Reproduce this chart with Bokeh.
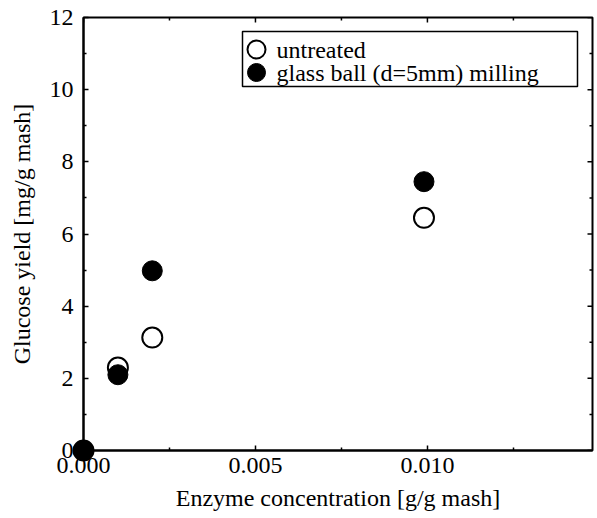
import math
from bokeh.plotting import figure
from bokeh.models import (Range1d, FixedTicker, PrintfTickFormatter, ColumnDataSource,
                          BoxAnnotation, Label)
from bokeh.embed import file_html
from bokeh.resources import INLINE

# ---- data ----
enzyme_conc = [0.0, 0.001, 0.002, 0.0099]
untreated = [0.0, 2.3, 3.13, 6.45]
milled = [0.0, 2.1, 4.98, 7.45]
x_major = [0.0, 0.005, 0.010]
x_minor = [0.0025, 0.0075, 0.0125]
y_major = [0, 2, 4, 6, 8, 10, 12]
y_minor = [1, 3, 5, 7, 9, 11]
series_labels = ["untreated", "glass ball (d=5mm) milling"]

X_MAX = 0.0148
Y_MAX = 12
FONT = "Liberation Serif"

p = figure(width=597, height=518, output_backend="svg", toolbar_location=None,
           x_range=Range1d(0, X_MAX), y_range=Range1d(0, Y_MAX),
           min_border_left=83, min_border_right=5, min_border_top=17,
           min_border_bottom=68)
p.grid.visible = False
p.outline_line_color = "black"
p.outline_line_width = 2
p.background_fill_color = "white"
p.border_fill_color = "white"

src_u = ColumnDataSource(dict(x=enzyme_conc, y=untreated))
src_m = ColumnDataSource(dict(x=enzyme_conc, y=milled))
p.scatter("x", "y", source=src_u, size=20, fill_color="white",
          line_color="black", line_width=2, level="overlay")
p.scatter("x", "y", source=src_m, size=20, fill_color="black",
          line_color="black", line_width=1, level="overlay")

# axes
for ax in (p.xaxis[0], p.yaxis[0]):
    ax.axis_line_width = 2
    ax.axis_line_color = "black"
    ax.major_tick_in = 5
    ax.major_tick_out = 0
    ax.minor_tick_in = 3
    ax.minor_tick_out = 0
    ax.major_tick_line_width = 1.5
    ax.minor_tick_line_width = 1.5
    ax.major_label_text_font = FONT
    ax.major_label_text_font_size = "24px"
    ax.major_label_text_color = "black"
    ax.axis_label_text_font = FONT
    ax.axis_label_text_font_size = "24px"
    ax.axis_label_text_font_style = "normal"
    ax.axis_label_text_color = "black"

p.xaxis.ticker = FixedTicker(ticks=x_major, minor_ticks=x_minor)
p.yaxis.ticker = FixedTicker(ticks=y_major, minor_ticks=y_minor)
p.xaxis.formatter = PrintfTickFormatter(format="%.3f")
p.xaxis.axis_label = "Enzyme concentration [g/g mash]"
p.yaxis.axis_label = "Glucose yield [mg/g mash]"
p.xaxis.major_label_standoff = 7
p.yaxis.major_label_standoff = 10
p.xaxis.axis_label_standoff = 9
p.yaxis.axis_label_standoff = 12

# mirrored inward ticks on top and right edges
p.ray(x=x_major, y=[Y_MAX] * len(x_major), length=5, angle=-math.pi / 2,
      length_units="screen", line_color="black", line_width=1.5)
p.ray(x=x_minor, y=[Y_MAX] * len(x_minor), length=3, angle=-math.pi / 2,
      length_units="screen", line_color="black", line_width=1.5)
p.ray(x=[X_MAX] * len(y_major), y=y_major, length=5, angle=math.pi,
      length_units="screen", line_color="black", line_width=1.5)
p.ray(x=[X_MAX] * len(y_minor), y=y_minor, length=3, angle=math.pi,
      length_units="screen", line_color="black", line_width=1.5)

# legend (screen units, relative to the frame's bottom-left corner)
p.add_layout(BoxAnnotation(left=159, right=494, top=419, bottom=364,
                           left_units="screen", right_units="screen",
                           top_units="screen", bottom_units="screen",
                           fill_color="white", fill_alpha=1,
                           line_color="black", line_alpha=1, line_width=1.5,
                           level="overlay"))
rows = [401, 378]
styles = [dict(fill_color="white", line_width=2), dict(fill_color="black", line_width=1)]
for lab, yc, st in zip(series_labels, rows, styles):
    p.add_layout(BoxAnnotation(left=164, right=182, top=yc + 9, bottom=yc - 9,
                               left_units="screen", right_units="screen",
                               top_units="screen", bottom_units="screen",
                               border_radius=9, fill_alpha=1, line_color="black",
                               line_alpha=1, level="overlay", **st))
    p.add_layout(Label(x=193, y=yc, x_units="screen", y_units="screen", text=lab,
                       text_font=FONT, text_font_size="24px", text_color="black",
                       text_baseline="middle", text_align="left", level="overlay"))

open("out.html", "w").write(file_html(p, INLINE))
